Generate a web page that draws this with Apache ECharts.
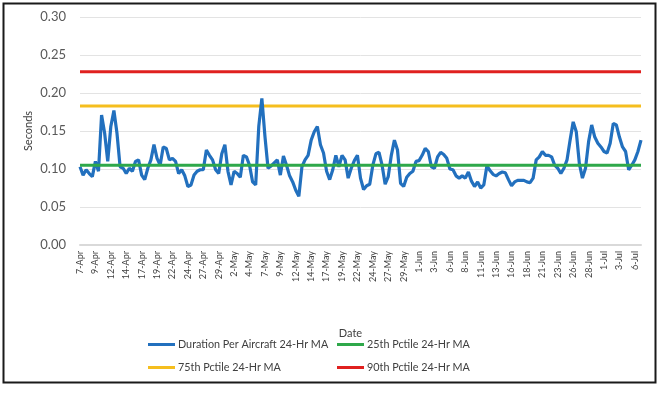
<!DOCTYPE html>
<html>
<head>
<meta charset="utf-8">
<script src="https://cdn.jsdelivr.net/npm/echarts@6/dist/echarts.min.js"></script>
<style>
html,body{margin:0;padding:0;background:#fff;}
#chart{width:657px;height:393px;}
</style>
</head>
<body>
<div id="chart"></div>
<script>
// Tick labels shown on the date axis (one every 2.5 days)
var tickLabels = ["7-Apr","9-Apr","12-Apr","14-Apr","17-Apr","19-Apr","22-Apr","24-Apr","27-Apr","29-Apr",
  "2-May","4-May","7-May","9-May","12-May","14-May","17-May","19-May","22-May","24-May","27-May","29-May",
  "1-Jun","3-Jun","6-Jun","8-Jun","11-Jun","13-Jun","16-Jun","18-Jun","21-Jun","23-Jun","26-Jun","28-Jun",
  "1-Jul","3-Jul","6-Jul"];

// Duration Per Aircraft 24-Hr MA, sampled every 12 hours from 7-Apr
var duration = [
  0.103,0.092,0.099,0.094,0.090,0.110,0.097,0.171,0.147,0.110,
  0.156,0.177,0.147,0.103,0.101,0.094,0.101,0.097,0.110,0.112,
  0.092,0.086,0.101,0.112,0.132,0.114,0.105,0.129,0.127,0.112,
  0.114,0.110,0.094,0.099,0.091,0.077,0.079,0.092,0.097,0.099,
  0.099,0.125,0.118,0.112,0.099,0.094,0.120,0.132,0.097,0.079,
  0.097,0.094,0.089,0.118,0.116,0.105,0.083,0.079,0.156,0.193,
  0.143,0.101,0.104,0.108,0.112,0.092,0.117,0.105,0.091,0.083,
  0.072,0.064,0.103,0.112,0.118,0.138,0.149,0.156,0.132,0.121,
  0.097,0.086,0.099,0.118,0.103,0.118,0.112,0.088,0.101,0.111,
  0.118,0.088,0.073,0.078,0.080,0.105,0.120,0.122,0.105,0.080,
  0.090,0.118,0.138,0.125,0.081,0.077,0.089,0.094,0.097,0.110,
  0.111,0.118,0.127,0.123,0.103,0.101,0.116,0.122,0.119,0.114,
  0.100,0.099,0.091,0.088,0.091,0.088,0.096,0.084,0.077,0.083,
  0.075,0.079,0.104,0.098,0.093,0.091,0.094,0.096,0.095,0.086,
  0.078,0.083,0.085,0.085,0.085,0.083,0.082,0.088,0.112,0.116,
  0.123,0.118,0.118,0.116,0.105,0.101,0.094,0.101,0.112,0.138,
  0.162,0.149,0.107,0.088,0.101,0.136,0.158,0.142,0.134,0.129,
  0.123,0.121,0.134,0.160,0.158,0.142,0.129,0.123,0.099,0.105,
  0.112,0.123,0.138
];

// Percentile reference levels (24-Hr MA)
var pct25 = 0.105;
var pct75 = 0.183;
var pct90 = 0.228;

var names = ["Duration Per Aircraft 24-Hr MA","25th Pctile 24-Hr MA","75th Pctile 24-Hr MA","90th Pctile 24-Hr MA"];
var colors = ["#2270BE","#2EA84A","#F5BE1E","#E0201F"];

var categories = duration.map(function(v,i){ return i % 5 === 0 ? tickLabels[i/5] : ("p" + i); });
function flat(v){ return duration.map(function(){ return v; }); }

var FONT = "Lato";
var chart = echarts.init(document.getElementById('chart'), null, {renderer:'canvas'});

function legendAt(name, left, top){
  return {
    data:[name], left:left, top:top, icon:'rect', itemWidth:27, itemHeight:3,
    itemGap:0, selectedMode:false,
    textStyle:{fontFamily:FONT, fontSize:10.8, color:'#404040', padding:[0,0,0,-2]}
  };
}

chart.setOption({
  animation:false,
  backgroundColor:'#fff',
  graphic:[{
    type:'rect', left:1, top:1, shape:{x:0,y:0,width:652,height:379},
    style:{fill:'none', stroke:'#1a1a1a', lineWidth:2}, silent:true
  }],
  grid:{left:80, right:16, top:17, bottom:148, containLabel:false},
  legend:[
    legendAt(names[0], 143, 334),
    legendAt(names[1], 332, 334),
    legendAt(names[2], 143, 357),
    legendAt(names[3], 332, 357)
  ],
  xAxis:{
    type:'category', data:categories, boundaryGap:false,
    name:'Date', nameLocation:'middle', nameGap:83, nameMoveOverlap:false,
    nameTextStyle:{fontFamily:FONT, fontSize:11, color:'#404040', padding:[0,0,0,-20]},
    axisLine:{lineStyle:{color:'#D9D9D9', width:2}},
    axisTick:{show:false},
    axisLabel:{interval:4, rotate:90, fontFamily:FONT, fontSize:9, color:'#404040', margin:6,
      formatter:function(v,i){ return i % 5 === 0 ? tickLabels[i/5] : ''; }},
    splitLine:{show:false}
  },
  yAxis:{
    type:'value', min:0, max:0.30, interval:0.05,
    name:'Seconds', nameLocation:'middle', nameGap:46, nameRotate:90, nameMoveOverlap:false,
    nameTextStyle:{fontFamily:FONT, fontSize:11, color:'#404040'},
    axisLine:{show:false}, axisTick:{show:false},
    axisLabel:{fontFamily:FONT, fontSize:13, color:'#595959', margin:14,
      formatter:function(v){ return v.toFixed(2); }},
    splitLine:{lineStyle:{color:'#E3E3E3', width:1}}
  },
  series:[
    {name:names[3], type:'line', data:flat(pct90), symbol:'none', lineStyle:{color:colors[3], width:3}, itemStyle:{color:colors[3]}},
    {name:names[2], type:'line', data:flat(pct75), symbol:'none', lineStyle:{color:colors[2], width:3}, itemStyle:{color:colors[2]}},
    {name:names[0], type:'line', data:duration, symbol:'none', lineStyle:{color:colors[0], width:3.2}, itemStyle:{color:colors[0]}},
    {name:names[1], type:'line', data:flat(pct25), symbol:'none', lineStyle:{color:colors[1], width:3}, itemStyle:{color:colors[1]}}
  ]
});
</script>
</body>
</html>
